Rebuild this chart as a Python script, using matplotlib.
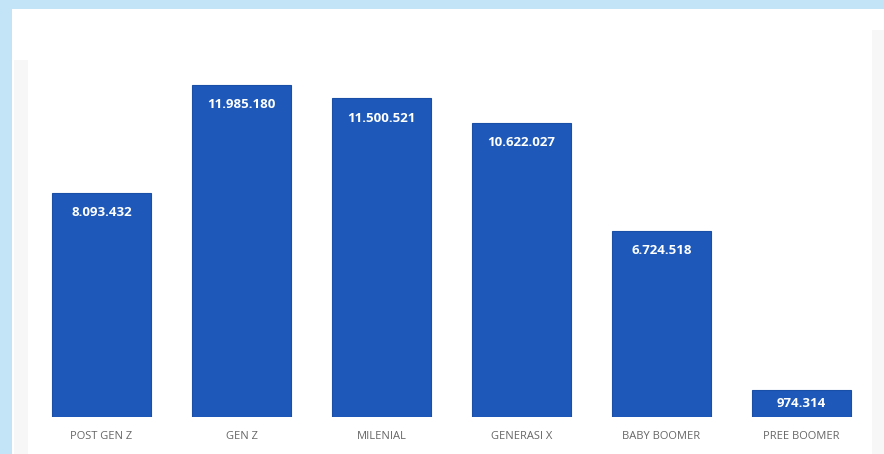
import matplotlib.pyplot as plt
from matplotlib.patches import Rectangle

# Data
generasi = ["POST GEN Z", "GEN Z", "MILENIAL", "GENERASI X", "BABY BOOMER", "PREE BOOMER"]
jumlah = [8093432, 11985180, 11500521, 10622027, 6724518, 974314]


def format_titik(n):
    return f"{n:,}".replace(",", ".")


fig = plt.figure(figsize=(8.84, 4.54), dpi=100, facecolor="white")

# Light blue frame on the top and left edges, with faint gray shading at the sides
latar = [
    ((0, 0), 1, 1, "#c3e4f6", 1.0),
    ((12 / 884, 0), 1, 1 - 9 / 454, "white", 1.0),
    ((14 / 884, 0), 14 / 884, 1 - 60 / 454, "#eeeeee", 0.45),
    ((872 / 884, 0), 12 / 884, 1 - 30 / 454, "#eeeeee", 0.45),
]
for xy, w, h, c, a in latar:
    fig.add_artist(Rectangle(xy, w, h, transform=fig.transFigure, facecolor=c,
                             edgecolor="none", alpha=a, zorder=-10))

ax = fig.add_axes([31.5 / 884, 37 / 454, 840 / 884, 388 / 454])
ax.set_facecolor("none")
ax.set_zorder(5)

x = range(len(generasi))
bars = ax.bar(x, jumlah, width=0.71, color="#1e59ba", edgecolor="#1a4fa8", linewidth=0.8)

for b, v in zip(bars, jumlah):
    h = b.get_height()
    y = h - 0.72e6 if h > 2e6 else h / 2
    ax.text(b.get_x() + b.get_width() / 2, y, format_titik(v), ha="center", va="center",
            color="white", fontsize=9.5, fontweight="bold", family="Open Sans")

ax.set_xlim(-0.5, 5.5)
ax.set_ylim(0, 14e6)
ax.set_xticks(list(x))
ax.set_xticklabels(generasi, fontsize=8, color="#666666", family="Open Sans")
ax.tick_params(axis="x", length=0, pad=10)
ax.set_yticks([])
for s in ax.spines.values():
    s.set_visible(False)

fig.savefig("out.png", dpi=100, facecolor=fig.get_facecolor())
